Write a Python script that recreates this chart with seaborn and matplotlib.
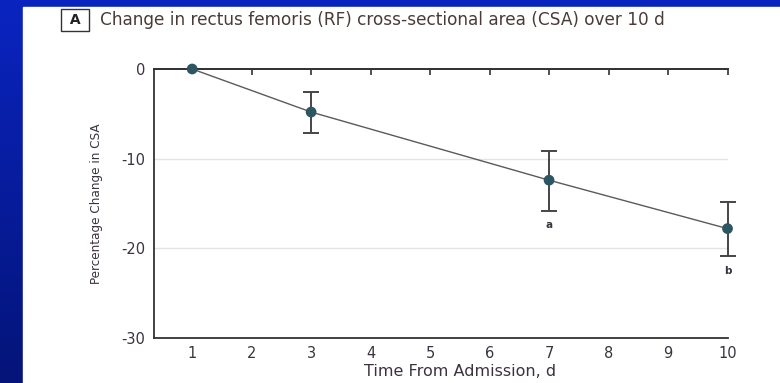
import numpy as np
import pandas as pd
import matplotlib
matplotlib.use("Agg")
import matplotlib.pyplot as plt
import seaborn as sns

# Data
days = [1, 3, 7, 10]
pct_change = [0.0, -4.8, -12.4, -17.8]
err_upper = [0.0, -2.6, -9.1, -14.8]
err_lower = [0.0, -7.1, -15.8, -20.9]
sig_labels = ["", "", "a", "b"]
x_ticks = [1, 2, 3, 4, 5, 6, 7, 8, 9, 10]
y_ticks = [0, -10, -20, -30]

df = pd.DataFrame({"day": days, "pct": pct_change})

sns.set_theme(style="white")
plt.rcParams['font.family'] = ['DejaVu Sans']

W, H = 780, 383
fig = plt.figure(figsize=(W / 100, H / 100), dpi=100)

# Background: blue gradient border with white panel
bg = fig.add_axes([0, 0, 1, 1], zorder=-10)
bg.set_axis_off()
grad = np.linspace(0, 1, 256).reshape(-1, 1)
top_c = np.array([10, 36, 192]) / 255
bot_c = np.array([4, 20, 120]) / 255
img = top_c[None, None, :] * (1 - grad[:, :, None]) + bot_c[None, None, :] * grad[:, :, None]
img = np.repeat(img, 2, axis=1)
bg.imshow(img, aspect='auto', extent=[0, 1, 0, 1], origin='upper')
bg.add_patch(plt.Rectangle((23 / W, 0), 1 - 23 / W, 1 - 7 / H, color='white', transform=bg.transAxes))
bg.set_xlim(0, 1)
bg.set_ylim(0, 1)

ax = fig.add_axes([153.5 / W, 1 - 338 / H, (727.5 - 153.5) / W, (338 - 69) / H])
ax.set_facecolor('none')

txt_c = '#3b3340'
spine_c = '#333333'

# grid
for yv in [-10, -20]:
    ax.axhline(yv, color='#e3e3e3', lw=1.0, zorder=0)

# line
sns.lineplot(data=df, x="day", y="pct", ax=ax, color='#5a5a5a', lw=1.0, zorder=2)

# error bars
yerr = np.array([[p - l for p, l in zip(pct_change, err_lower)],
                 [u - p for p, u in zip(pct_change, err_upper)]])
mask = [i for i in range(len(days)) if days[i] != 1]
eb = ax.errorbar([days[i] for i in mask], [pct_change[i] for i in mask],
                 yerr=yerr[:, mask], fmt='none', ecolor='#454545', elinewidth=1.4,
                 capsize=6, capthick=1.4, zorder=3)
for art in list(eb.lines[1]) + list(eb.lines[2]):
    art.set_clip_on(False)

# markers
sns.scatterplot(data=df, x="day", y="pct", ax=ax, color='#2b5662', s=60,
                edgecolor='none', zorder=4, clip_on=False)

for d, p, lo, lab in zip(days, pct_change, err_lower, sig_labels):
    if lab:
        ax.text(d, lo - 1.6, lab, ha='center', va='center', fontsize=7.5,
                color=txt_c, fontweight='bold', clip_on=False)

ax.set_xlim(0.35, 10)
ax.set_ylim(-30, 0)
ax.set_xticks(x_ticks)
ax.set_yticks(y_ticks)
ax.set_xticklabels([str(t) for t in x_ticks], fontsize=10.5, color=txt_c)
ax.set_yticklabels([str(t) for t in y_ticks], fontsize=10.5, color=txt_c)
ax.tick_params(axis='both', direction='out', length=4, width=1.2, color=spine_c, pad=2)

for s in ['left', 'bottom', 'top']:
    ax.spines[s].set_visible(True)
    ax.spines[s].set_color(spine_c)
    ax.spines[s].set_linewidth(1.3)
ax.spines['right'].set_visible(False)

sec = ax.secondary_xaxis('top')
sec.set_xticks(x_ticks[1:])
sec.tick_params(direction='in', length=4, width=1.2, color=spine_c, labeltop=False)
sec.spines['top'].set_color(spine_c)
sec.spines['top'].set_linewidth(1.3)

ax.set_xlabel("Time From Admission, d", fontsize=11.5, color=txt_c, va='top')
ax.xaxis.set_label_coords((460 - 153.5) / 574, -0.098)
ax.set_ylabel("Percentage Change in CSA", fontsize=9.6, color=txt_c,
              family=['DejaVu Sans'], fontstretch='condensed')
ax.yaxis.set_label_coords(-(153.5 - 103) / 574, 0.5)

# Title with boxed panel letter
fig.text(75 / W, 1 - 20 / H, " A ", ha='center', va='center', fontsize=10, fontweight='bold',
         color='#222222',
         bbox=dict(boxstyle='square,pad=0.3', fc='white', ec='#333333', lw=1.0))
fig.text(100 / W, 1 - 20 / H, "Change in rectus femoris (RF) cross-sectional area (CSA) over 10 d",
         ha='left', va='center', fontsize=12.2, color='#4a3b38')

fig.savefig("out.png", dpi=100)
